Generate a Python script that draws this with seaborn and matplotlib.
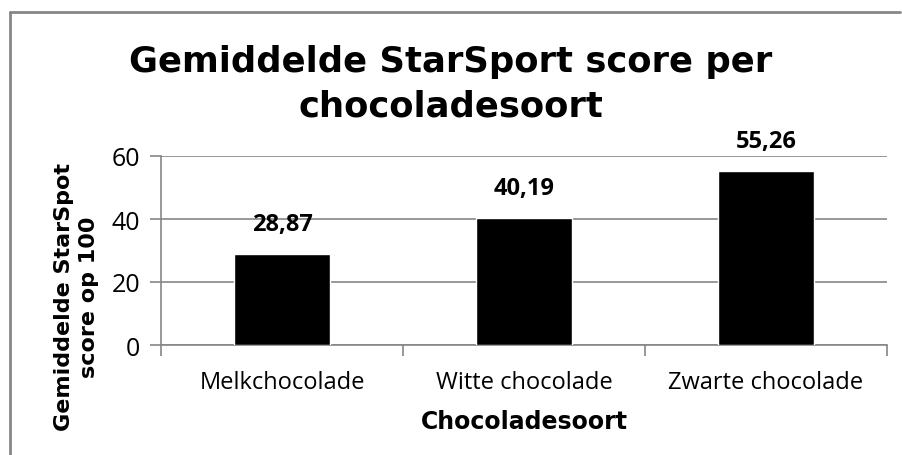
import matplotlib
matplotlib.use("Agg")
import matplotlib.pyplot as plt
import seaborn as sns
import pandas as pd
from matplotlib.lines import Line2D

categories = ["Melkchocolade", "Witte chocolade", "Zwarte chocolade"]
scores = [28.87, 40.19, 55.26]
y_ticks = [0, 20, 40, 60]

sns.set_theme(style="white", rc={"text.color": "black", "axes.labelcolor": "black",
                                 "xtick.color": "black", "ytick.color": "black"})
plt.rcParams["font.family"] = ["Open Sans", "DejaVu Sans"]

df = pd.DataFrame({"soort": categories, "score": scores})

fig = plt.figure(figsize=(9.02, 4.56), dpi=100)
ax = fig.add_axes([161 / 902, 1 - 346 / 456, (887 - 161) / 902, (346 - 157) / 456])

sns.barplot(data=df, x="soort", y="score", color="black", width=0.4,
            saturation=1, ax=ax, zorder=3)

grey = "#868686"
ax.set_xlim(-0.5, len(categories) - 0.5)
ax.set_ylim(0, 60)
ax.set_yticks(y_ticks)
ax.set_yticklabels([str(t) for t in y_ticks], fontsize=18, color="black")
ax.yaxis.grid(True, color=grey, linewidth=1.2, zorder=0)
ax.set_axisbelow(True)

for side in ["top", "right"]:
    ax.spines[side].set_visible(False)
for side in ["left", "bottom"]:
    ax.spines[side].set_color(grey)
    ax.spines[side].set_linewidth(1.2)

ax.tick_params(axis="y", which="major", direction="out", length=8, width=1.2,
               color=grey, left=True, pad=7)
ax.tick_params(axis="x", which="major", length=0, pad=18, labelsize=17,
               labelcolor="black")
ax.set_xticks([i - 0.5 for i in range(len(categories) + 1)], minor=True)
ax.tick_params(axis="x", which="minor", direction="out", length=8, width=1.2,
               color=grey, bottom=True)

for i, v in enumerate(scores):
    ax.annotate(f"{v:.2f}".replace(".", ","), (i, v), xytext=(0, 13),
                textcoords="offset points", ha="center", va="bottom",
                fontsize=17, fontweight="bold", color="black")

ax.set_xlabel("Chocoladesoort", fontsize=17, fontweight="bold",
              family="DejaVu Sans", labelpad=11)
ax.set_ylabel("Gemiddelde StarSpot\nscore op 100", fontsize=16,
              fontweight="bold", family="DejaVu Sans", linespacing=1.35)
ax.yaxis.set_label_coords(-0.085, 0.26)

fig.text(0.5, 1 - 84 / 456, "Gemiddelde StarSport score per\nchocoladesoort",
         ha="center", va="center", fontsize=25.5, fontweight="bold",
         family="DejaVu Sans", linespacing=1.38)

# frame lines along the top and left of the chart area
fig.add_artist(Line2D([10 / 902, 10 / 902], [0, 1 - 13 / 456],
                      transform=fig.transFigure, color=grey, linewidth=2))
fig.add_artist(Line2D([10 / 902, 900 / 902], [1 - 13 / 456, 1 - 13 / 456],
                      transform=fig.transFigure, color=grey, linewidth=2))

fig.savefig("out.png", dpi=100)
